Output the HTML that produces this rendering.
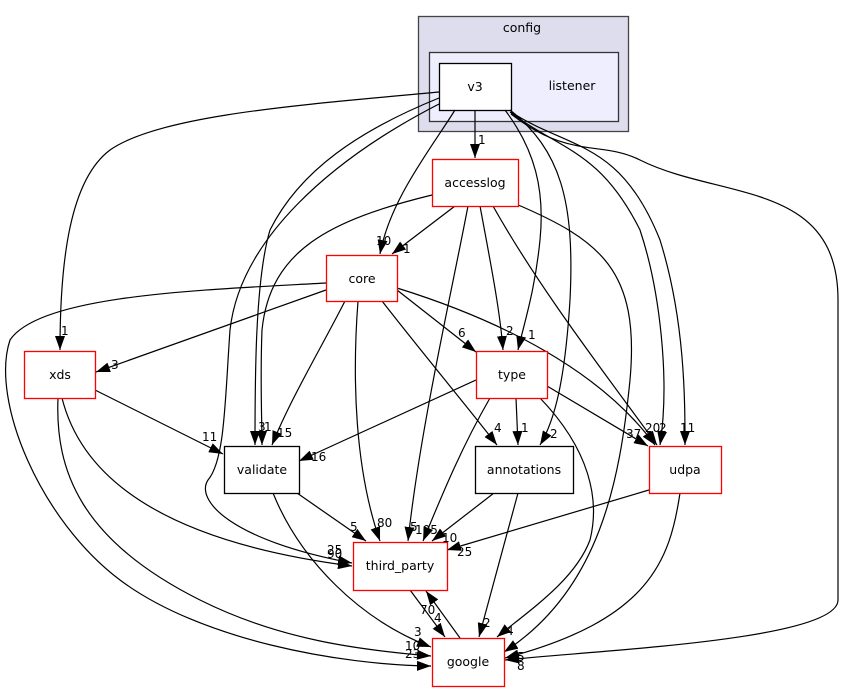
<!DOCTYPE html>
<html><head><meta charset="utf-8"><style>
html,body{margin:0;padding:0;background:#fff;}
svg{display:block;font-family:"DejaVu Sans","Liberation Sans",sans-serif;}
text{font-size:12px;fill:#000;}
.n{font-size:12.5px;text-anchor:middle;}
path.e{fill:none;stroke:#000;stroke-width:1.2;}
</style></head><body>
<svg width="843" height="692" viewBox="0 0 843 692" xmlns="http://www.w3.org/2000/svg">
<defs><marker id="a" markerWidth="14" markerHeight="10" refX="14" refY="5" orient="auto" markerUnits="userSpaceOnUse"><path d="M0,0 L14,5 L0,10 z" fill="#000"/></marker></defs>
<rect x="418.5" y="16.5" width="210" height="115" fill="#ddddee" stroke="#444" stroke-width="1.3"/>
<text class="n" x="522" y="32">config</text>
<rect x="429.5" y="52.5" width="189" height="69" fill="#eeeeff" stroke="#333" stroke-width="1.3"/>
<text class="n" x="572" y="90">listener</text>
<rect x="439.5" y="63.5" width="72" height="47" fill="#fff" stroke="#000" stroke-width="1.3"/>
<text class="n" x="475" y="91">v3</text>

<g>
<path class="e" marker-end="url(#a)" d="M475,110 L475,158"/>
<path class="e" marker-end="url(#a)" d="M455,110 C430,150 390,200 380,254"/>
<path class="e" marker-end="url(#a)" d="M439,92 C300,105 160,115 110,150 C70,180 60,260 60,350"/>
<path class="e" marker-end="url(#a)" d="M439,98 C360,130 300,170 270,230 C255,280 255,380 255,445"/>
<path class="e" marker-end="url(#a)" d="M439,104 C330,160 240,240 230,330 C225,400 225,460 208,480 C195,500 230,540 352,563"/>
<path class="e" marker-end="url(#a)" d="M505,110 C535,150 545,190 540,240 C535,290 525,320 518,350"/>
<path class="e" marker-end="url(#a)" d="M510,110 C560,150 575,200 570,300 C565,380 555,420 540,445"/>
<path class="e" marker-end="url(#a)" d="M510,112 C560,150 600,150 640,230 C660,290 670,380 660,445"/>
<path class="e" marker-end="url(#a)" d="M511,112 C570,150 620,140 660,240 C685,320 685,400 685,445"/>
<path class="e" marker-end="url(#a)" d="M511,114 C570,160 600,140 640,160 C720,200 838,180 838,300 L838,600 C838,640 600,650 505,660"/>

<path class="e" marker-end="url(#a)" d="M455,206 L392,254"/>
<path class="e" marker-end="url(#a)" d="M432,195 C330,220 270,250 262,330 C260,380 262,420 262,445"/>
<path class="e" marker-end="url(#a)" d="M468,206 C450,300 420,430 408,541"/>
<path class="e" marker-end="url(#a)" d="M480,206 C490,260 500,310 503,350"/>
<path class="e" marker-end="url(#a)" d="M493,206 C540,290 610,380 657,445"/>
<path class="e" marker-end="url(#a)" d="M516,204 C600,240 640,270 630,380 C620,480 600,590 504,652"/>

<path class="e" marker-end="url(#a)" d="M326,290 L96,372"/>
<path class="e" marker-end="url(#a)" d="M326,283 C200,290 40,295 10,340 C-10,400 40,520 120,580 C200,640 340,665 431,666"/>
<path class="e" marker-end="url(#a)" d="M345,301 C320,350 290,400 272,445"/>
<path class="e" marker-end="url(#a)" d="M358,301 C352,380 355,470 380,541"/>
<path class="e" marker-end="url(#a)" d="M397,290 L476,352"/>
<path class="e" marker-end="url(#a)" d="M382,301 C420,350 470,410 497,445"/>
<path class="e" marker-end="url(#a)" d="M397,288 C500,320 600,370 655,445"/>

<path class="e" marker-end="url(#a)" d="M95,390 L223,454"/>
<path class="e" marker-end="url(#a)" d="M62,398 C80,470 150,540 352,566"/>
<path class="e" marker-end="url(#a)" d="M58,398 C55,470 80,540 200,600 C280,640 360,650 431,656"/>

<path class="e" marker-end="url(#a)" d="M476,380 L299,461"/>
<path class="e" marker-end="url(#a)" d="M516,398 L518,445"/>
<path class="e" marker-end="url(#a)" d="M490,398 C460,450 440,500 423,541"/>
<path class="e" marker-end="url(#a)" d="M547,386 L648,446"/>
<path class="e" marker-end="url(#a)" d="M540,398 C590,450 600,500 590,540 C575,580 530,610 497,637"/>

<path class="e" marker-end="url(#a)" d="M297,493 L366,541"/>
<path class="e" marker-end="url(#a)" d="M273,493 C300,560 360,620 431,647"/>
<path class="e" marker-end="url(#a)" d="M494,493 L432,541"/>
<path class="e" marker-end="url(#a)" d="M518,493 L479,637"/>
<path class="e" marker-end="url(#a)" d="M649,490 L447,550"/>
<path class="e" marker-end="url(#a)" d="M680,493 C670,560 650,620 505,658"/>
<path class="e" marker-end="url(#a)" d="M410,590 L445,637"/>
<path class="e" marker-end="url(#a)" d="M460,638 L426,591"/>
</g>

<rect x="432.5" y="159.5" width="86" height="47" fill="#fff" stroke="#f00" stroke-width="1.3"/>
<text class="n" x="475" y="187">accesslog</text>
<rect x="326.5" y="255.5" width="71" height="46" fill="#fff" stroke="#f00" stroke-width="1.3"/>
<text class="n" x="362" y="283">core</text>
<rect x="24.5" y="351.5" width="71" height="47" fill="#fff" stroke="#f00" stroke-width="1.3"/>
<text class="n" x="60" y="379">xds</text>
<rect x="476.5" y="351.5" width="71" height="47" fill="#fff" stroke="#f00" stroke-width="1.3"/>
<text class="n" x="512" y="379">type</text>
<rect x="224.5" y="446.5" width="75" height="47" fill="#fff" stroke="#000" stroke-width="1.3"/>
<text class="n" x="262" y="474">validate</text>
<rect x="475.5" y="446.5" width="98" height="47" fill="#fff" stroke="#000" stroke-width="1.3"/>
<text class="n" x="524" y="474">annotations</text>
<rect x="649.5" y="446.5" width="72" height="47" fill="#fff" stroke="#f00" stroke-width="1.3"/>
<text class="n" x="685" y="474">udpa</text>
<rect x="353.5" y="542.5" width="94" height="48" fill="#fff" stroke="#f00" stroke-width="1.3"/>
<text class="n" x="400" y="570">third_party</text>
<rect x="432.5" y="638.5" width="72" height="48" fill="#fff" stroke="#f00" stroke-width="1.3"/>
<text class="n" x="468" y="666">google</text>

<g>
<text x="478" y="144">1</text>
<text x="376" y="245">10</text>
<text x="403" y="253">1</text>
<text x="61" y="335">1</text>
<text x="111" y="369">3</text>
<text x="458" y="337">6</text>
<text x="506" y="335">2</text>
<text x="528" y="339">1</text>
<text x="258" y="431">3</text>
<text x="264" y="431">1</text>
<text x="277" y="437">15</text>
<text x="202" y="441">11</text>
<text x="311" y="461">16</text>
<text x="494" y="432">4</text>
<text x="521" y="432">1</text>
<text x="550" y="438">2</text>
<text x="645" y="432">20</text>
<text x="659" y="432">2</text>
<text x="680" y="432">11</text>
<text x="626" y="438">37</text>
<text x="350" y="531">5</text>
<text x="377" y="527">80</text>
<text x="410" y="531">5</text>
<text x="415" y="534">105</text>
<text x="442" y="542">10</text>
<text x="457" y="556">25</text>
<text x="327" y="554">25</text>
<text x="327" y="558">90</text>
<text x="420" y="614">70</text>
<text x="434" y="622">4</text>
<text x="414" y="636">3</text>
<text x="405" y="650">10</text>
<text x="405" y="658">23</text>
<text x="483" y="627">2</text>
<text x="506" y="635">4</text>
<text x="517" y="661">5</text>
<text x="517" y="670">8</text>
</g>
</svg>
</body></html>
